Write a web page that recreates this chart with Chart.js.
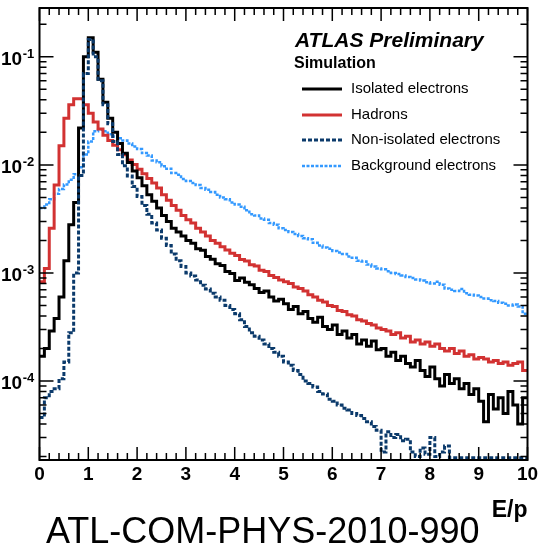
<!DOCTYPE html>
<html>
<head>
<meta charset="utf-8">
<script src="https://cdn.jsdelivr.net/npm/chart.js@4.4.1/dist/chart.umd.min.js"></script>
<style>
  html, body { margin: 0; padding: 0; background: #fff; }
</style>
</head>
<body>
<canvas id="myChart" width="543" height="549"></canvas>
<script>
// E/p histograms, 100 bins of 0.1 from 0 to 10
const binWidth = 0.1;
const floorValue = 1.95e-5; // empty bins sit on the bottom of the frame

const isolated = [
  1.7e-4, 2.0e-4, 2.9e-4, 3.8e-4, 6.0e-4, 1.3e-3, 2.8e-3, 4.5e-3, 2.2e-2, 1.0e-1,
  0.15, 0.11, 0.062, 0.038, 0.027, 0.020, 0.0158, 0.0128, 0.0105, 0.0088,
  0.0076, 0.0064, 0.0053, 0.0046, 0.0040, 0.0034, 0.0030, 0.0026, 0.0024, 0.0022,
  0.0020, 0.00188, 0.00168, 0.00162, 0.00142, 0.00134, 0.00122, 0.00117, 0.00103, 0.00099,
  0.00085, 0.0009, 0.00082, 0.00078, 0.00072, 0.00066, 0.00068, 0.0006, 0.00055, 0.00057,
  0.00052, 0.00046, 0.00049, 0.00042, 0.00044, 0.00038, 0.00035, 0.00039, 0.00032, 0.0003,
  0.00033, 0.00027, 0.00029, 0.00025, 0.00027, 0.00022, 0.00024, 0.00021, 0.000235, 0.000195,
  0.0002, 0.00017, 0.000185, 0.000155, 0.00017, 0.000145, 0.000135, 0.000155, 0.000125, 0.00011,
  0.000135, 0.000105, 0.00009, 0.000115, 0.000095, 0.000105, 0.000085, 0.000095, 0.000075, 0.000085,
  0.000065, 0.000042, 0.000075, 0.000055, 0.00007, 0.00005, 0.00008, 0.00006, 0.00004, 0.00007
];

const hadrons = [
  0.00083, 0.0011, 0.0026, 0.0065, 0.015, 0.027, 0.036, 0.041, 0.041, 0.036,
  0.030, 0.025, 0.0215, 0.0188, 0.0168, 0.0152, 0.0138, 0.0124, 0.0111, 0.0101,
  0.0091, 0.0083, 0.0075, 0.0068, 0.0061, 0.0053, 0.0047, 0.0042, 0.0038, 0.0034,
  0.0031, 0.0029, 0.0026, 0.0024, 0.0022, 0.0020, 0.00188, 0.00175, 0.00163, 0.00152,
  0.00145, 0.00133, 0.00129, 0.00119, 0.00116, 0.00106, 0.00103, 0.00095, 0.00091, 0.00086,
  0.00083, 0.0008, 0.00074, 0.00072, 0.00068, 0.00063, 0.0006, 0.00056, 0.00054, 0.0005,
  0.00049, 0.00045, 0.00044, 0.00041, 0.0004, 0.00037, 0.00036, 0.00034, 0.00033, 0.00031,
  0.0003, 0.00029, 0.00027, 0.00028, 0.00025, 0.00026, 0.00023, 0.00024, 0.00022, 0.00023,
  0.00021, 0.00022, 0.0002, 0.00019, 0.0002, 0.00018, 0.00019, 0.00017, 0.000175, 0.00016,
  0.000165, 0.00016, 0.00015, 0.000155, 0.000145, 0.00015, 0.00014, 0.000145, 0.00015, 0.000125
];

const nonIsolated = [
  0.000046, 0.00007, 0.00008, 0.000085, 0.000105, 0.00015, 0.00028, 0.0010, 0.008, 0.07,
  0.145, 0.1, 0.06, 0.036, 0.024, 0.0165, 0.0125, 0.0098, 0.0079, 0.0063,
  0.0051, 0.0042, 0.0035, 0.0029, 0.0025, 0.0021, 0.0018, 0.0015, 0.0013, 0.00115,
  0.001, 0.00094, 0.00086, 0.00077, 0.00071, 0.00065, 0.0006, 0.00056, 0.0005, 0.00046,
  0.00042, 0.00037, 0.00032, 0.00028, 0.00026, 0.00024, 0.00022, 0.0002, 0.000185, 0.00017,
  0.00015, 0.00014, 0.000125, 0.000115, 0.0001, 0.000095, 0.000088, 0.00008, 0.000076, 0.000068,
  0.000065, 0.00006, 0.000056, 0.000054, 0.00005, 0.000048, 0.000045, 0.000042, 0.000038, 0.000035,
  0.000022, 0.000034, 0.00003, 0.000032, 0.000028, 0.000029, 0.000022, 0.00002, 0.000024, 0.000021,
  0.00003, 0.00002, 0.000022, 0.000025, 0.0000195, 0.0000195, 0.0000195, 0.0000195, 0.0000195, 0.0000195,
  0.0000195, 0.0000195, 0.0000195, 0.0000195, 0.0000195, 0.0000195, 0.0000195, 0.0000195, 0.0000195, 0.0000195
];

const background = [
  0.0040, 0.0043, 0.0048, 0.0054, 0.0060, 0.0066, 0.0073, 0.0082, 0.0095, 0.0125,
  0.0165, 0.0205, 0.0212, 0.0205, 0.0192, 0.0183, 0.0176, 0.0168, 0.0158, 0.0148,
  0.0140, 0.0129, 0.0122, 0.0110, 0.0106, 0.0097, 0.0092, 0.0084, 0.0081, 0.0074,
  0.0071, 0.0068, 0.0065, 0.0061, 0.0059, 0.0056, 0.0053, 0.0050, 0.0048, 0.0045,
  0.0043, 0.0041, 0.0038, 0.0035, 0.0034, 0.0032, 0.0031, 0.0029, 0.0028, 0.0026,
  0.0025, 0.0024, 0.0023, 0.0022, 0.0021, 0.00205, 0.0019, 0.0018, 0.00172, 0.00168,
  0.0016, 0.00155, 0.0015, 0.00142, 0.00138, 0.0013, 0.00128, 0.0012, 0.00115, 0.0011,
  0.00108, 0.00104, 0.001, 0.00098, 0.00095, 0.00092, 0.0009, 0.00087, 0.00085, 0.00082,
  0.0008, 0.00083, 0.00078, 0.00072, 0.0007, 0.00068, 0.00071, 0.00065, 0.00063, 0.00062,
  0.0006, 0.00058, 0.00056, 0.00055, 0.00053, 0.00052, 0.0005, 0.00051, 0.00049, 0.00042
];

const xTicks = [0, 1, 2, 3, 4, 5, 6, 7, 8, 9, 10];
const yDecades = [-4, -3, -2, -1];

const FONT = "'Liberation Sans', Arial, Helvetica, sans-serif";

// series description used for datasets and for the hand drawn legend
const series = [
  { label: 'Isolated electrons', values: isolated, color: '#000000', width: 3, dash: [] },
  { label: 'Hadrons', values: hadrons, color: '#d23232', width: 3, dash: [] },
  { label: 'Non-isolated electrons', values: nonIsolated, color: '#0b3a6b', width: 3, dash: [4, 2] },
  { label: 'Background electrons', values: background, color: '#3399ff', width: 2.5, dash: [3, 1.5] }
];

const toSteps = (vals) => {
  const pts = vals.map((v, i) => ({ x: i * binWidth, y: v }));
  pts.push({ x: vals.length * binWidth, y: vals[vals.length - 1] });
  return pts;
};

// draw order: non-isolated on top, then black, red, light blue underneath
const drawOrder = { 'Non-isolated electrons': 0, 'Isolated electrons': 1, 'Hadrons': 2, 'Background electrons': 3 };

const decor = {
  id: 'decor',
  afterDraw(chart) {
    const { ctx, chartArea: a, scales: { x, y } } = chart;
    ctx.save();

    // tick marks on all four sides, pointing inward
    ctx.strokeStyle = '#000';
    ctx.lineWidth = 1.5;
    ctx.beginPath();
    for (let k = 0; k <= 50; k++) {
      const px = x.getPixelForValue(k * 0.2);
      const len = k % 5 === 0 ? 13 : 7;
      ctx.moveTo(px, a.bottom); ctx.lineTo(px, a.bottom - len);
      ctx.moveTo(px, a.top); ctx.lineTo(px, a.top + len);
    }
    for (let e = -5; e <= -1; e++) {
      for (let m = 1; m <= 9; m++) {
        const v = m * Math.pow(10, e);
        if (v < y.min || v > y.max) continue;
        const py = y.getPixelForValue(v);
        const len = m === 1 ? 14 : 7;
        ctx.moveTo(a.left, py); ctx.lineTo(a.left + len, py);
        ctx.moveTo(a.right, py); ctx.lineTo(a.right - len, py);
      }
    }
    ctx.stroke();

    ctx.lineWidth = 2;
    ctx.strokeRect(a.left, a.top, a.right - a.left, a.bottom - a.top);

    // y labels 10^n
    ctx.fillStyle = '#000';
    ctx.textAlign = 'left';
    yDecades.forEach(e => {
      const py = y.getPixelForValue(Math.pow(10, e));
      ctx.font = 'bold 19px ' + FONT;
      ctx.textBaseline = 'middle';
      ctx.fillText('10', 1, py + 3);
      const w = ctx.measureText('10').width;
      ctx.font = 'bold 13px ' + FONT;
      ctx.textBaseline = 'alphabetic';
      ctx.fillText(String(e), 1 + w + 0.5, py + 1);
    });

    // axis title
    ctx.font = 'bold 23px ' + FONT;
    ctx.textAlign = 'right';
    ctx.fillText('E/p', a.right, 517);

    // note below the plot
    ctx.font = '36px ' + FONT;
    ctx.textAlign = 'left';
    ctx.fillText('ATL-COM-PHYS-2010-990', 46, 543);

    // ATLAS label
    ctx.font = 'italic bold 21px ' + FONT;
    ctx.fillText('ATLAS Preliminary', 295, 47);
    ctx.font = 'bold 16px ' + FONT;
    ctx.fillText('Simulation', 294, 68);

    // legend
    const rows = [89, 115, 140, 166];
    const legendOrder = ['Isolated electrons', 'Hadrons', 'Non-isolated electrons', 'Background electrons'];
    legendOrder.forEach((name, i) => {
      const s = series.find(d => d.label === name);
      ctx.strokeStyle = s.color;
      ctx.lineWidth = s.width;
      ctx.setLineDash(s.dash);
      ctx.beginPath();
      ctx.moveTo(302, rows[i]);
      ctx.lineTo(342, rows[i]);
      ctx.stroke();
      ctx.setLineDash([]);
      ctx.fillStyle = '#000';
      ctx.font = '15px ' + FONT;
      ctx.textBaseline = 'middle';
      ctx.fillText(name, 351, rows[i]);
    });

    ctx.restore();
  }
};

const ctx = document.getElementById('myChart').getContext('2d');
const chart = new Chart(ctx, {
  type: 'line',
  data: {
    datasets: series.map(s => ({
      label: s.label,
      data: toSteps(s.values),
      borderColor: s.color,
      borderWidth: s.width,
      borderDash: s.dash,
      stepped: true,
      pointRadius: 0,
      fill: false,
      borderJoinStyle: 'miter',
      order: drawOrder[s.label]
    }))
  },
  options: {
    responsive: false,
    animation: false,
    devicePixelRatio: 1,
    layout: { padding: { left: 0, right: 15.5, top: 8, bottom: 0 } },
    plugins: {
      legend: { display: false },
      tooltip: { enabled: false }
    },
    scales: {
      x: {
        type: 'linear',
        min: 0,
        max: 10,
        afterBuildTicks: (scale) => { scale.ticks = xTicks.map(v => ({ value: v })); },
        ticks: {
          color: '#000',
          font: { family: FONT, size: 19, weight: 'bold' },
          padding: 3,
          maxRotation: 0,
          autoSkip: false
        },
        grid: { display: false, drawTicks: false },
        border: { display: false },
        afterFit: (scale) => { scale.height = 89; }
      },
      y: {
        type: 'logarithmic',
        min: 1.86e-5,
        max: 0.283,
        ticks: { display: false },
        grid: { display: false, drawTicks: false },
        border: { display: false },
        afterFit: (scale) => { scale.width = 39.5; }
      }
    }
  },
  plugins: [decor]
});
</script>
</body>
</html>
